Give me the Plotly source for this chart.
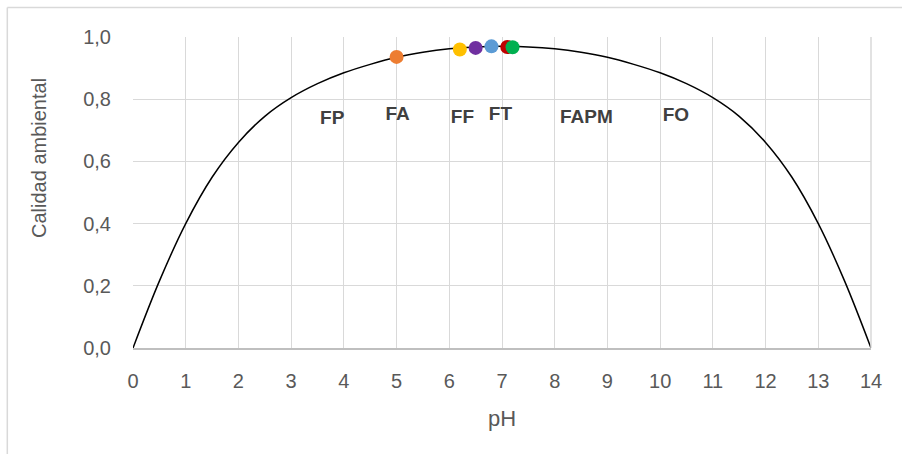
import plotly.graph_objects as go

# Environmental quality curve as a function of pH (half-unit steps)
ph_curve = [0, 0.5, 1, 1.5, 2, 2.5, 3, 3.5, 4, 4.5, 5, 5.5, 6, 6.5, 7,
            7.5, 8, 8.5, 9, 9.5, 10, 10.5, 11, 11.5, 12, 12.5, 13, 13.5, 14]
quality_curve = [0.0, 0.215, 0.40, 0.549, 0.661, 0.745, 0.805, 0.85, 0.885, 0.912, 0.935, 0.951, 0.962, 0.968, 0.97,
                 0.968, 0.962, 0.951, 0.935, 0.912, 0.885, 0.85, 0.805, 0.745, 0.661, 0.549, 0.40, 0.215, 0.0]

# Sample points on the curve
sample_ph = [5.0, 6.2, 6.5, 6.8, 7.1, 7.2]
sample_quality = [0.936, 0.96, 0.965, 0.97, 0.968, 0.967]
sample_colors = ["#ED7D31", "#FFC000", "#7030A0", "#5B9BD5", "#C00000", "#00B050"]

# Text labels for the samples
label_text = ["FP", "FA", "FF", "FT", "FAPM", "FO"]
label_x = [3.78, 5.02, 6.25, 6.97, 8.6, 10.3]
label_y = [0.737, 0.75, 0.74, 0.75, 0.74, 0.745]

x_ticks = list(range(0, 15))
y_ticks = [0.0, 0.2, 0.4, 0.6, 0.8, 1.0]
y_tick_text = ["0,0", "0,2", "0,4", "0,6", "0,8", "1,0"]

FONT = "Liberation Sans, Arial, sans-serif"

fig = go.Figure()
fig.add_trace(go.Scatter(
    x=ph_curve, y=quality_curve, mode="lines",
    line=dict(color="black", width=1.5, shape="spline", smoothing=1.0),
    hoverinfo="skip", showlegend=False,
))
for xv, yv, c in zip(sample_ph, sample_quality, sample_colors):
    fig.add_trace(go.Scatter(
        x=[xv], y=[yv], mode="markers",
        marker=dict(color=c, size=14, line=dict(width=0)),
        showlegend=False,
    ))
fig.add_trace(go.Scatter(
    x=label_x, y=label_y, mode="text", text=label_text,
    textfont=dict(family=FONT, size=19, color="#404040", weight="bold"),
    textposition="middle center", showlegend=False, hoverinfo="skip",
))

fig.update_layout(
    width=902, height=454,
    margin=dict(l=133, r=31, t=37, b=106),
    paper_bgcolor="white", plot_bgcolor="white",
    font=dict(family=FONT, color="#595959"),
    xaxis=dict(
        range=[0, 14], tickvals=x_ticks, showgrid=True, gridcolor="#d9d9d9", gridwidth=1,
        zeroline=False, showline=True, linecolor="#bfbfbf", linewidth=1.5,
        ticks="", ticklabelstandoff=14, tickfont=dict(size=20, color="#595959"),
        title=dict(text="pH", font=dict(size=22, color="#595959"), standoff=20),
    ),
    yaxis=dict(
        range=[0, 1.0], tickvals=y_ticks, ticktext=y_tick_text, showgrid=True,
        gridcolor="#d9d9d9", gridwidth=1, zeroline=False, showline=False,
        ticks="", ticklabelstandoff=21, tickfont=dict(size=20, color="#595959"),
    ),
    annotations=[
        dict(text="Calidad ambiental", xref="paper", yref="paper",
             x=(39 - 133) / 738, y=(348 - 158) / 311, textangle=-90,
             showarrow=False, xanchor="center", yanchor="middle",
             font=dict(family=FONT, size=20, color="#595959")),
    ],
    shapes=[
        # outer chart frame (left and top edges)
        dict(type="line", xref="paper", yref="paper", x0=-0.1703, x1=-0.1703, y0=1.0945, y1=-0.4,
             line=dict(color="#d9d9d9", width=1.5)),
        dict(type="line", xref="paper", yref="paper", x0=-0.1703, x1=1.1, y0=1.0945, y1=1.0945,
             line=dict(color="#d9d9d9", width=1.5)),
        # right edge of plot area
        dict(type="line", xref="paper", yref="paper", x0=1, x1=1, y0=0, y1=1,
             line=dict(color="#d9d9d9", width=1.5)),
    ],
)

fig.write_html("out.html")
